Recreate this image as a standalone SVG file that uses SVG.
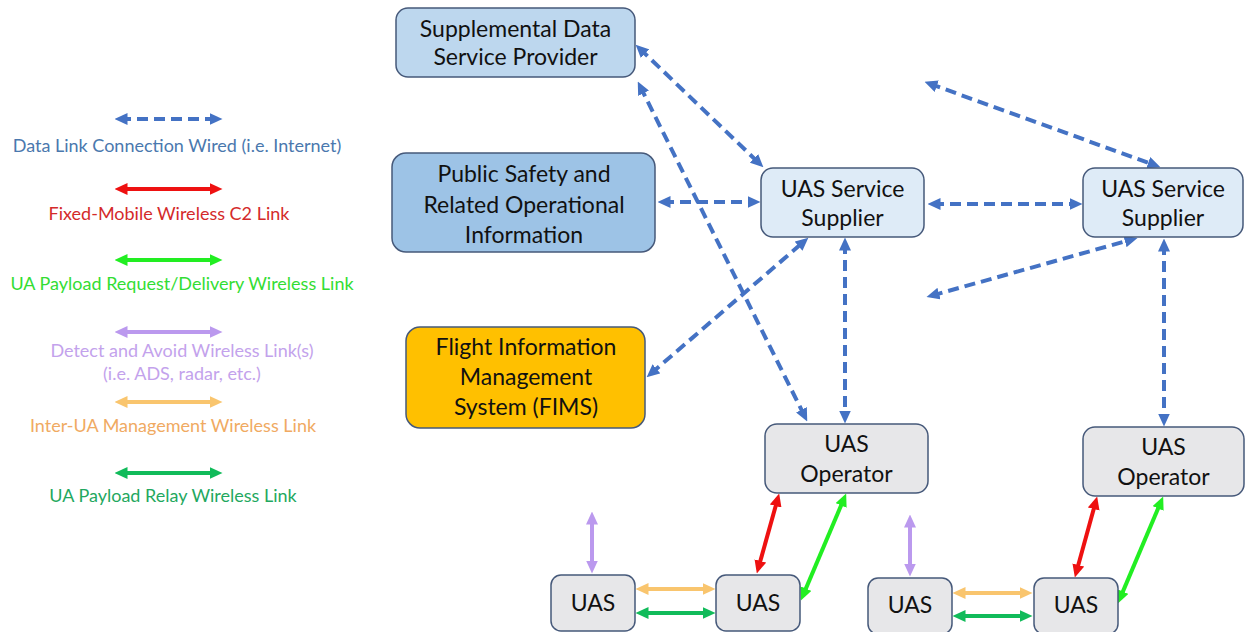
<svg xmlns="http://www.w3.org/2000/svg" width="1245" height="632" viewBox="0 0 1245 632">
  <defs>
    <style>
      text { font-family: Lato, "Open Sans", "Liberation Sans", sans-serif; }
      .node rect { stroke: #46597a; stroke-width: 1.5; }
      .node text { font-size: 23px; fill: #111; text-anchor: middle; }
      .legend text { font-size: 18px; text-anchor: middle; }
      .wired { stroke: #4472c4; stroke-width: 4; stroke-dasharray: 11 6; fill: none; }
      .c2 { stroke: #ee1111; stroke-width: 4; fill: none; }
      .payload { stroke: #22ee22; stroke-width: 4; fill: none; }
      .daa { stroke: #bb99ee; stroke-width: 4; fill: none; }
      .interua { stroke: #f9c56e; stroke-width: 4; fill: none; }
      .relay { stroke: #11bb5a; stroke-width: 4; fill: none; }
      .wired { marker-start: url(#hBlue); marker-end: url(#hBlue); }
      .c2 { marker-start: url(#hRed); marker-end: url(#hRed); }
      .payload { marker-start: url(#hGreen); marker-end: url(#hGreen); }
      .daa { marker-start: url(#hPurple); marker-end: url(#hPurple); }
      .interua { marker-start: url(#hOrange); marker-end: url(#hOrange); }
      .relay { marker-start: url(#hDGreen); marker-end: url(#hDGreen); }
    </style>
    <marker id="hBlue" viewBox="0 0 13 12" refX="7.5" refY="6" markerWidth="13" markerHeight="12" markerUnits="userSpaceOnUse" orient="auto-start-reverse"><path d="M0,0 L13,6 L0,12 z" fill="#4472c4"/></marker>
    <marker id="hRed" viewBox="0 0 13 12" refX="7.5" refY="6" markerWidth="13" markerHeight="12" markerUnits="userSpaceOnUse" orient="auto-start-reverse"><path d="M0,0 L13,6 L0,12 z" fill="#ee1111"/></marker>
    <marker id="hGreen" viewBox="0 0 13 12" refX="7.5" refY="6" markerWidth="13" markerHeight="12" markerUnits="userSpaceOnUse" orient="auto-start-reverse"><path d="M0,0 L13,6 L0,12 z" fill="#22ee22"/></marker>
    <marker id="hPurple" viewBox="0 0 13 12" refX="7.5" refY="6" markerWidth="13" markerHeight="12" markerUnits="userSpaceOnUse" orient="auto-start-reverse"><path d="M0,0 L13,6 L0,12 z" fill="#bb99ee"/></marker>
    <marker id="hOrange" viewBox="0 0 13 12" refX="7.5" refY="6" markerWidth="13" markerHeight="12" markerUnits="userSpaceOnUse" orient="auto-start-reverse"><path d="M0,0 L13,6 L0,12 z" fill="#f9c56e"/></marker>
    <marker id="hDGreen" viewBox="0 0 13 12" refX="7.5" refY="6" markerWidth="13" markerHeight="12" markerUnits="userSpaceOnUse" orient="auto-start-reverse"><path d="M0,0 L13,6 L0,12 z" fill="#11bb5a"/></marker>
  </defs>

  <rect width="1245" height="632" fill="#ffffff"/>

  <!-- Legend -->
  <g id="legend" class="legend">
    <line class="wired" x1="120" y1="119" x2="217" y2="119"/>
    <text x="177" y="152" fill="#4a78ae">Data Link Connection Wired (i.e. Internet)</text>
    <line class="c2" x1="120" y1="189" x2="217" y2="189"/>
    <text x="169" y="220" fill="#d42a2a">Fixed-Mobile Wireless C2 Link</text>
    <line class="payload" x1="120" y1="260" x2="217" y2="260"/>
    <text x="182" y="290" fill="#33dd33">UA Payload Request/Delivery Wireless Link</text>
    <line class="daa" x1="120" y1="332" x2="217" y2="332"/>
    <text x="182" y="357" fill="#c3a2ec">Detect and Avoid Wireless Link(s)</text>
    <text x="182" y="380" fill="#c3a2ec">(i.e. ADS, radar, etc.)</text>
    <line class="interua" x1="120" y1="402" x2="217" y2="402"/>
    <text x="173" y="432" fill="#f0aa62">Inter-UA Management Wireless Link</text>
    <line class="relay" x1="120" y1="473" x2="217" y2="473"/>
    <text x="173" y="502" fill="#1fa860">UA Payload Relay Wireless Link</text>
  </g>

  <!-- Connectors -->
  <g id="connectors">
    <line class="wired" x1="639.6" y1="48.5" x2="759.4" y2="163.5"/>
    <line class="wired" x1="640.2" y1="86.5" x2="804.8" y2="416.5"/>
    <line class="wired" x1="663" y1="202" x2="755" y2="202"/>
    <line class="wired" x1="933" y1="204" x2="1077" y2="204"/>
    <line class="wired" x1="929.7" y1="83.7" x2="1155.3" y2="165.3"/>
    <line class="wired" x1="931.8" y1="295.6" x2="1132.2" y2="239.4"/>
    <line class="wired" x1="650.8" y1="373.7" x2="804.2" y2="241.3"/>
    <line class="wired" x1="845" y1="243" x2="845" y2="418"/>
    <line class="wired" x1="1164" y1="244" x2="1164" y2="421"/>

    <line class="c2" x1="758.3" y1="568.2" x2="777.7" y2="498.8"/>
    <line class="payload" x1="803" y1="595.4" x2="844" y2="498.6"/>
    <line class="daa" x1="592" y1="517" x2="592" y2="568"/>
    <line class="interua" x1="641" y1="589" x2="710" y2="589"/>
    <line class="relay" x1="641" y1="613" x2="710" y2="613"/>

    <line class="c2" x1="1076.3" y1="572.2" x2="1095.7" y2="501.8"/>
    <line class="payload" x1="1120" y1="598.4" x2="1161" y2="501.6"/>
    <line class="daa" x1="910" y1="520" x2="910" y2="571"/>
    <line class="interua" x1="958" y1="593" x2="1027" y2="593"/>
    <line class="relay" x1="958" y1="616" x2="1027" y2="616"/>
  </g>

  <!-- Nodes -->
  <g id="sdsp" class="node">
    <rect x="396" y="8" width="239" height="69" rx="12" fill="#bdd7ee"/>
    <text x="515.5" y="37">Supplemental Data</text>
    <text x="515.5" y="65">Service Provider</text>
  </g>
  <g id="public-safety" class="node">
    <rect x="392" y="153" width="263" height="99" rx="14" fill="#9dc3e6"/>
    <text x="524" y="182">Public Safety and</text>
    <text x="524" y="213">Related Operational</text>
    <text x="524" y="243">Information</text>
  </g>
  <g id="fims" class="node">
    <rect x="406" y="327" width="239" height="101" rx="14" fill="#ffc000"/>
    <text x="526" y="355">Flight Information</text>
    <text x="526" y="385">Management</text>
    <text x="526" y="415">System (FIMS)</text>
  </g>
  <g id="uss-1" class="node">
    <rect x="761" y="168" width="163" height="69" rx="12" fill="#deebf7"/>
    <text x="842.5" y="197">UAS Service</text>
    <text x="842.5" y="226">Supplier</text>
  </g>
  <g id="uss-2" class="node">
    <rect x="1083" y="168" width="160" height="69" rx="12" fill="#deebf7"/>
    <text x="1163" y="197">UAS Service</text>
    <text x="1163" y="226">Supplier</text>
  </g>
  <g id="operator-1" class="node">
    <rect x="765" y="424" width="163" height="69" rx="12" fill="#e7e7e9"/>
    <text x="846.5" y="452">UAS</text>
    <text x="846.5" y="482">Operator</text>
  </g>
  <g id="operator-2" class="node">
    <rect x="1083" y="427" width="161" height="69" rx="12" fill="#e7e7e9"/>
    <text x="1163.5" y="455">UAS</text>
    <text x="1163.5" y="485">Operator</text>
  </g>
  <g id="uas-1" class="node">
    <rect x="551" y="575" width="84" height="56" rx="10" fill="#e7e7e9"/>
    <text x="593" y="611">UAS</text>
  </g>
  <g id="uas-2" class="node">
    <rect x="716" y="575" width="84" height="56" rx="10" fill="#e7e7e9"/>
    <text x="758" y="611">UAS</text>
  </g>
  <g id="uas-3" class="node">
    <rect x="868" y="578" width="84" height="56" rx="10" fill="#e7e7e9"/>
    <text x="910" y="613">UAS</text>
  </g>
  <g id="uas-4" class="node">
    <rect x="1034" y="578" width="84" height="56" rx="10" fill="#e7e7e9"/>
    <text x="1076" y="613">UAS</text>
  </g>
</svg>
